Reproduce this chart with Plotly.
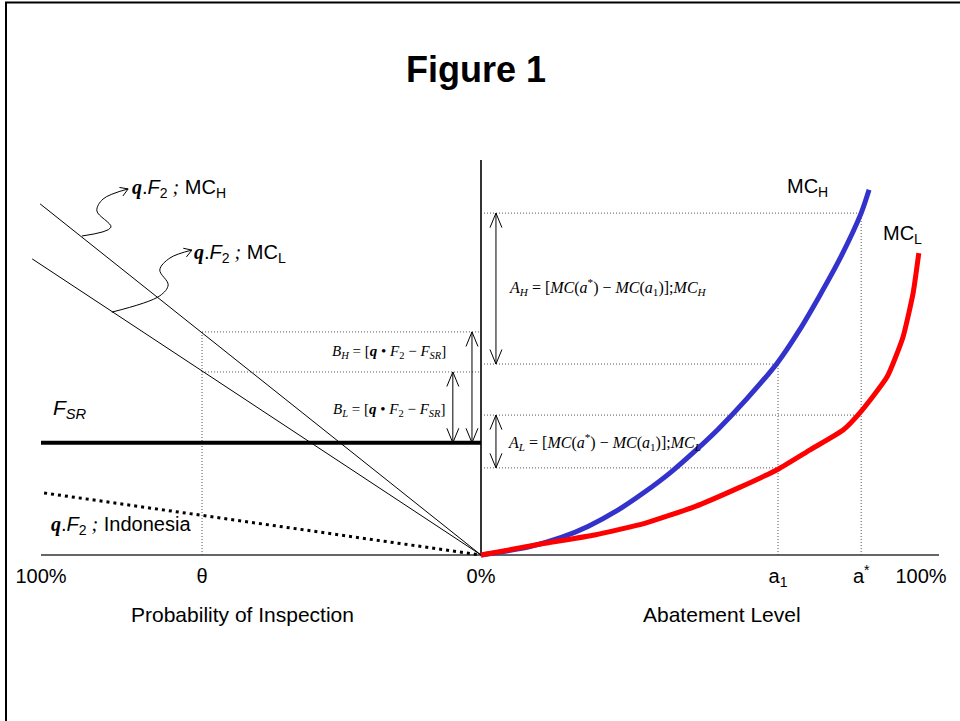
import plotly.graph_objects as go
import math

# ---------------- data (x: percent; left half = probability of inspection shown as negative x,
# right half = abatement level; y: cost units) ----------------
theta = -63.4          # position of theta on the probability axis
a1 = 67.5              # abatement level a1
a_star = 86.4          # abatement level a*
F_SR = 25.5            # F_SR level

qF2_H_x = [-100.2, 0.0]
qF2_H_y = [79.8, 0.0]
qF2_L_x = [-102.0, 0.0]
qF2_L_y = [67.3, 0.0]
indo_x = [-99.3, 0.0]
indo_y = [14.1, 0.0]
fsr_x = [-100.0, 0.0]

mch_x = [0, 10.7, 18.25, 24.3, 31.1, 37.2, 43.25, 48.6, 53.9, 60.5, 67.3, 72.3, 77.0, 81.6, 86.4, 88.2]
mch_y = [0, 1.8, 4.0, 6.5, 10.2, 14.3, 18.9, 23.6, 28.6, 35.6, 43.6, 51.0, 59.0, 67.4, 77.7, 83.0]
mcl_x = [0, 14.5, 25.8, 37.2, 48.6, 58.4, 67.5, 74.8, 82.3, 86.1, 92.3, 95.9, 98.2, 99.5]
mcl_y = [0, 2.66, 4.55, 7.2, 11.0, 15.2, 19.5, 23.9, 28.4, 32.3, 40.5, 49.5, 59.5, 68.6]

qF2_H_at_theta = 50.7
qF2_L_at_theta = 41.6
MC_H_a1, MC_H_astar = 43.4, 77.7
MC_L_a1, MC_L_astar = 19.8, 31.8

axis_x_end = 104.1
axis_y_top = 89.8

arrow_B_H_x = -2.05
arrow_B_L_x = -6.4
arrow_A_x = 3.4

curl1_x = [-90.7, -84.1, -87.3, -85.9, -80.2]
curl1_y = [72.5, 74.5, 78.2, 80.9, 83.2]
curl2_x = [-83.9, -73.0, -71.1, -73.0, -70.7, -65.7]
curl2_y = [55.2, 58.9, 61.4, 64.8, 67.5, 69.3]

tick_vals = [-100, theta, 0, a1, a_star, 100]
tick_text = ["100%", "θ", "0%", "a<sub>1</sub>", "a<sup>*</sup>", "100%"]

X_RANGE = [-109.318, 108.864]
Y_RANGE = [-37.727, 126.136]

SANS = "Liberation Sans, Arial, sans-serif"
SERIF = "Liberation Serif, Times New Roman, serif"

fig = go.Figure()


def line(x, y, color="black", width=1, dash="solid", shape="linear", smoothing=1.0):
    ln = dict(color=color, width=width, dash=dash, shape=shape)
    if shape == "spline":
        ln["smoothing"] = smoothing
    fig.add_trace(go.Scatter(x=x, y=y, mode="lines", hoverinfo="skip", showlegend=False, line=ln))


# dotted guide lines
GUIDE = dict(color="#555555", width=1, dash="1px,2px")
line([theta, 0], [qF2_H_at_theta] * 2, **GUIDE)
line([theta, 0], [qF2_L_at_theta] * 2, **GUIDE)
line([theta, theta], [0, qF2_H_at_theta], **GUIDE)
line([0, a_star], [MC_H_astar] * 2, **GUIDE)
line([0, a1], [MC_H_a1] * 2, **GUIDE)
line([0, a_star], [MC_L_astar] * 2, **GUIDE)
line([0, a1], [MC_L_a1] * 2, **GUIDE)
line([a1, a1], [0, MC_H_a1], **GUIDE)
line([a_star, a_star], [0, MC_H_astar], **GUIDE)

# axes
line([indo_x[0] - 0.7, axis_x_end], [0, 0], color="#333333", width=1.5)
line([0, 0], [0, axis_y_top], color="#333333", width=2)

# left side lines
line(qF2_H_x, qF2_H_y, width=1)
line(qF2_L_x, qF2_L_y, width=1)
line(fsr_x, [F_SR, F_SR], width=4)
line(indo_x, indo_y, width=3, dash="3px,4px")

# marginal cost curves
line(mch_x, mch_y, color="#3333CC", width=5, shape="spline", smoothing=0.7)
line(mcl_x, mcl_y, color="#FF0000", width=5, shape="spline", smoothing=0.5)

# double headed arrows with open heads
HW, HL = 1.36, 3.3


def double_arrow(x, y0, y1):
    line([x, x], [y0, y1], width=1)
    line([x - HW, x, x + HW], [y1 - HL, y1, y1 - HL], width=1)
    line([x - HW, x, x + HW], [y0 + HL, y0, y0 + HL], width=1)


double_arrow(arrow_B_H_x, F_SR, qF2_H_at_theta)
double_arrow(arrow_B_L_x, F_SR, qF2_L_at_theta)
double_arrow(arrow_A_x, MC_H_a1, MC_H_astar)
double_arrow(arrow_A_x, MC_L_a1, MC_L_astar)


# curly pointer arrows
def curl(xs, ys):
    line(xs, ys, width=1, shape="spline")
    dx, dy = xs[-1] - xs[-2], ys[-1] - ys[-2]
    ang = math.atan2(dy, dx)
    L = 2.0
    pts_x, pts_y = [], []
    for s in (1, -1):
        a = ang + math.pi - s * 0.55
        pts_x.append(xs[-1] + L * math.cos(a))
        pts_y.append(ys[-1] + L * math.sin(a))
    line([pts_x[0], xs[-1], pts_x[1]], [pts_y[0], ys[-1], pts_y[1]], width=1)


curl(curl1_x, curl1_y)
curl(curl2_x, curl2_y)

qsym = "<b><i><span style=\"font-family:'Liberation Serif'\">q</span></i></b>"
semi = "<i><span style=\"font-family:'Liberation Serif'\"> ;</span></i>"

ann = []


def text(x, y, t, size, family=SANS, xanchor="left", **kw):
    ann.append(dict(x=x, y=y, xref="x", yref="y", text=t, showarrow=False, xanchor=xanchor,
                    yanchor="middle", font=dict(family=family, size=size, color="black"), **kw))


text(-79.8, 83.4, qsym + ".<i>F</i><sub>2</sub>" + semi + " MC<sub>H</sub>", 20)
text(-65.7, 68.6, qsym + ".<i>F</i><sub>2</sub>" + semi + " MC<sub>L</sub>", 20)
text(-98.2, 6.6, qsym + ".<i>F</i><sub>2</sub>" + semi + " Indonesia", 20)
text(-97.7, 33.2, "<i>F<sub>SR</sub></i>", 21)
text(74.1, 83.6, "MC<sub>H</sub>", 20, xanchor="center")
text(95.7, 72.9, "MC<sub>L</sub>", 20, xanchor="center")
text(-7.6, 46.1,
     "<i>B<sub>H</sub></i> = [<b><i>q</i></b> • <i>F</i><sub>2</sub> − <i>F<sub>SR</sub></i>]",
     15, family=SERIF, xanchor="right")
text(-7.8, 33.0,
     "<i>B<sub>L</sub></i> = [<b><i>q</i></b> • <i>F</i><sub>2</sub> − <i>F<sub>SR</sub></i>]",
     15, family=SERIF, xanchor="right")
text(5.9, 60.9,
     "<i>A<sub>H</sub></i> = [<i>MC</i>(<i>a</i><sup>*</sup>) − <i>MC</i>(<i>a</i><sub>1</sub>)];<i>MC<sub>H</sub></i>",
     16, family=SERIF)
text(5.7, 25.7,
     "<i>A<sub>L</sub></i> = [<i>MC</i>(<i>a</i><sup>*</sup>) − <i>MC</i>(<i>a</i><sub>1</sub>)];<i>MC<sub>L</sub></i>",
     16, family=SERIF)
text(-54.1, -13.6, "Probability of Inspection", 21, xanchor="center")
text(54.8, -13.6, "Abatement Level", 21, xanchor="center")

ann.append(dict(x=476 / 960, y=1 - 70 / 721, xref="paper", yref="paper", text="<b>Figure 1</b>",
                showarrow=False, xanchor="center", yanchor="middle",
                font=dict(family=SANS, size=36, color="black")))

fig.update_layout(
    width=960, height=721,
    margin=dict(l=0, r=0, t=0, b=0),
    paper_bgcolor="white", plot_bgcolor="white",
    showlegend=False, hovermode=False,
    annotations=ann,
    xaxis=dict(range=X_RANGE, domain=[0, 1], anchor="free", position=37.727 / 163.863,
               showgrid=False, zeroline=False, showline=False, ticks="",
               tickvals=tick_vals, ticktext=tick_text, ticklabelstandoff=7,
               tickfont=dict(family=SANS, size=20, color="black"), fixedrange=True),
    yaxis=dict(range=Y_RANGE, domain=[0, 1], visible=False, fixedrange=True),
    shapes=[dict(type="rect", xref="paper", yref="paper", x0=6 / 960, x1=1.05,
                 y0=-0.05, y1=1 - 2.5 / 721, line=dict(color="black", width=2))],
)

fig.write_html("out.html", config={"displayModeBar": False},
               post_script="document.body.style.margin='0px';")
